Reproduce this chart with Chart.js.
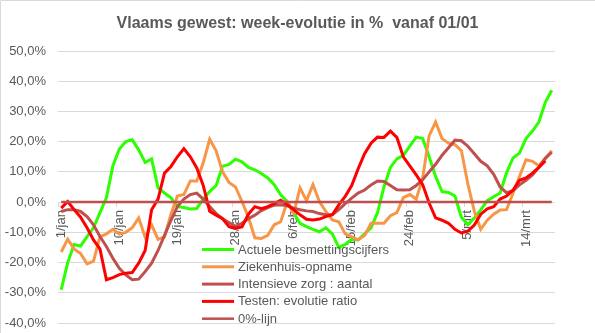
<!DOCTYPE html>
<html lang="nl">
<head>
<meta charset="utf-8">
<title>Vlaams gewest: week-evolutie</title>
<script src="https://cdn.jsdelivr.net/npm/chart.js@4.4.1/dist/chart.umd.min.js"></script>
<style>
  html, body { margin: 0; padding: 0; background: #fff; }
  .wrap { position: relative; width: 595px; height: 333px; }
</style>
</head>
<body>
<div class="wrap"><canvas id="chart" width="595" height="333"></canvas></div>
<script>
const TXT = "#595959";
const GRID = "#d9d9d9";
const FONT = "'Liberation Sans', Arial, sans-serif";
const TITEL = "Vlaams gewest: week-evolutie in %  vanaf 01/01";

// dagen vanaf 01/01
const dagen = [
  "1/jan","2/jan","3/jan","4/jan","5/jan","6/jan","7/jan","8/jan","9/jan","10/jan",
  "11/jan","12/jan","13/jan","14/jan","15/jan","16/jan","17/jan","18/jan","19/jan","20/jan",
  "21/jan","22/jan","23/jan","24/jan","25/jan","26/jan","27/jan","28/jan","29/jan","30/jan","31/jan",
  "1/feb","2/feb","3/feb","4/feb","5/feb","6/feb","7/feb","8/feb","9/feb","10/feb",
  "11/feb","12/feb","13/feb","14/feb","15/feb","16/feb","17/feb","18/feb","19/feb","20/feb",
  "21/feb","22/feb","23/feb","24/feb","25/feb","26/feb","27/feb","28/feb",
  "1/mrt","2/mrt","3/mrt","4/mrt","5/mrt","6/mrt","7/mrt","8/mrt","9/mrt","10/mrt",
  "11/mrt","12/mrt","13/mrt","14/mrt","15/mrt","16/mrt","17/mrt","18/mrt",
];

// week-evolutie in %
const besmettingen = [
  -29, -20, -14, -14.5, -11.4, -8.5, -3.5, 1.4, 12, 17.6,
  20, 20.6, 17.3, 13.1, 14.3, 4.7, 3, 1.4, -1.5, -1.8,
  -2.3, -2.1, 1, 3.5, 5.5, 11.9, 12.5, 14.2, 13.3, 11.5,
  10.7, 9.5, 8, 5.8, 2.4, 0.2, -3.5, -7, -8.1, -9,
  -9.8, -8.5, -10.5, -15, -14, -12.3, -12.5, -10.5, -8.5, -3.5,
  5, 11.5, 14.3, 15.5, 18.5, 21.5, 21, 15, 8.5, 3.5,
  3.2, 2, -5, -7.5, -5.3, -2.6, 0.5, 1.8, 3, 9.8,
  14.6, 16.2, 21, 23.5, 26.5, 33, 37,
];
const ziekenhuis = [
  -16.5, -12.3, -15.5, -17, -20.4, -19.5, -11.5, -10.5, -9, -10.6,
  -10, -8.5, -5.2, -11.6, -7.5, -12.3, -11.5, -4, 2, 2.5,
  7, 7, 13, 20.8, 17, 10, 6.5, 5, 0.2, -5,
  -11.8, -12, -11, -7.5, -6.5, 0, -3.7, 4.7, 0.5, 5.8,
  0.2, -3.1, -5.9, -6.5, -10.5, -11.5, -12.5, -11, -7, -7,
  -7, -4.5, -3.5, 1.5, 2.5, 1, 8, 22, 26.5, 21,
  19.5, 19, 17, 6, -3, -9, -6, -4, -2.6, -2.5,
  3, 8.5, 14, 13.5, 12, 14.5, 17,
];
const intensieveZorg = [
  -3.1, -2.5, -2.5, -3.1, -4.8, -7.5, -11.4, -14.7, -18.6, -21.9,
  -24.1, -25.7, -25.5, -23, -20.2, -16, -11, -6, -1.5, 1,
  2.5, 3, 1, -1.5, -3.8, -5.5, -6.8, -8, -7, -5.5,
  -4.3, -2.8, -1.8, -1, -0.9, -1.2, -2, -2.5, -2.9, -3.1,
  -3.8, -4.2, -4.2, -2.5, -0.5, 1.3, 3, 4, 5.7, 7,
  6.8, 5.5, 4.1, 4, 4.1, 5.5, 7.4, 10, 12.5, 15.5,
  18, 20.5, 20.3, 18.5, 16, 13.5, 12, 9.2, 5, 3.1,
  3.8, 5.7, 7.2, 9, 11.5, 14.5, 16.5,
];
const testen = [
  -2, 0.2, -2.5, -5, -8.5, -12.5, -15.5, -25.7, -25, -24,
  -23.5, -23.3, -20.2, -16, -2.5, 1, 9.6, 11.8, 15, 17.7,
  15, 11.3, 5.5, -3, -4.3, -5.5, -8.1, -8.6, -8.2, -4,
  -1.5, -2.2, -1.5, -0.5, 0.6, -0.8, -2.5, -4.2, -5.7, -5.9,
  -5.6, -4.8, -4.2, -0.9, 1.9, 5.5, 11, 16, 19.5, 21.5,
  21.4, 23.5, 21.4, 15, 12, 9, 5.8, -0.3, -5.2, -6,
  -7, -9, -10.2, -9.6, -7.6, -4, -2.2, -1.5, 1, 2,
  4, 7.2, 8, 9.6, 11.5, 13.6, null,
];
const nulLijn = [
  0, 0, 0, 0, 0, 0, 0, 0, 0, 0, 0, 0, 0, 0, 0, 0, 0, 0, 0, 0,
  0, 0, 0, 0, 0, 0, 0, 0, 0, 0, 0, 0, 0, 0, 0, 0, 0, 0, 0, 0,
  0, 0, 0, 0, 0, 0, 0, 0, 0, 0, 0, 0, 0, 0, 0, 0, 0, 0, 0, 0,
  0, 0, 0, 0, 0, 0, 0, 0, 0, 0, 0, 0, 0, 0, 0, 0, 0,
];

const yTicks = [-40, -30, -20, -10, 0, 10, 20, 30, 40, 50];
const labelStap = 9;

const fmtPct = (v) => v.toFixed(1).replace(".", ",") + "%";

const reeksen = [
  { label: "Actuele besmettingscijfers", data: besmettingen, color: "#2bff00", width: 3 },
  { label: "Ziekenhuis-opname", data: ziekenhuis, color: "#f79646", width: 3 },
  { label: "Intensieve zorg : aantal", data: intensieveZorg, color: "#c0504d", width: 3 },
  { label: "Testen: evolutie ratio", data: testen, color: "#ff0000", width: 3 },
  { label: "0%-lijn", data: nulLijn, color: "#c0504d", width: 2.5 },
];

// titel gecentreerd over het hele vlak
const titelPlugin = {
  id: "titel",
  afterDraw(chart) {
    const ctx = chart.ctx;
    ctx.save();
    ctx.font = "bold 16px " + FONT;
    ctx.fillStyle = TXT;
    ctx.textAlign = "center";
    ctx.textBaseline = "middle";
    ctx.fillText(TITEL, chart.width / 2, 24);
    ctx.restore();
  },
};

// legende ligt over het plotvlak, linksonder
const legendePlugin = {
  id: "legendeBinnen",
  afterDatasetsDraw(chart) {
    const ctx = chart.ctx;
    const x0 = 202, x1 = 234, tx = 238, y0 = 249.5, dy = 17.3;
    ctx.save();
    ctx.font = "13px " + FONT;
    ctx.textBaseline = "middle";
    ctx.fillStyle = TXT;
    reeksen.forEach((r, i) => {
      const y = y0 + i * dy;
      ctx.strokeStyle = r.color;
      ctx.lineWidth = r.width;
      ctx.beginPath();
      ctx.moveTo(x0, y);
      ctx.lineTo(x1, y);
      ctx.stroke();
      ctx.fillText(r.label, tx, y + 0.5);
    });
    ctx.restore();
  },
};

const randPlugin = {
  id: "rand",
  beforeDraw(chart) {
    const ctx = chart.ctx;
    ctx.save();
    ctx.fillStyle = "#fff";
    ctx.fillRect(0, 0, chart.width, chart.height);
    ctx.strokeStyle = GRID;
    ctx.lineWidth = 1;
    ctx.beginPath();
    ctx.moveTo(0.5, chart.height);
    ctx.lineTo(0.5, 0.5);
    ctx.lineTo(chart.width, 0.5);
    ctx.stroke();
    ctx.restore();
  },
};

new Chart(document.getElementById("chart"), {
  type: "line",
  data: {
    labels: dagen,
    datasets: reeksen.map((r, i) => ({
      label: r.label,
      data: r.data,
      borderColor: r.color,
      backgroundColor: r.color,
      borderWidth: r.width,
      pointRadius: 0,
      tension: 0,
      fill: false,
      order: reeksen.length - i,
    })),
  },
  options: {
    responsive: false,
    animation: false,
    layout: { padding: { left: 0, right: 40, top: 51, bottom: 10 } },
    plugins: {
      legend: { display: false },
      tooltip: { enabled: false },
      title: { display: false },
    },
    scales: {
      x: {
        type: "category",
        position: { y: 0 },
        offset: true,
        afterFit: (s) => { s.height = 0; },
        border: { display: false },
        grid: {
          offset: true,
          drawOnChartArea: false,
          drawTicks: true,
          tickLength: 5,
          tickColor: (c) => (c.index % labelStap === 0 ? GRID : "rgba(0,0,0,0)"),
        },
        ticks: {
          autoSkip: false,
          minRotation: 90,
          maxRotation: 90,
          padding: 3,
          color: TXT,
          font: { family: FONT, size: 13 },
          callback: (v, i) => (i % labelStap === 0 ? dagen[i] : ""),
        },
      },
      y: {
        min: -40,
        max: 50,
        // vaste breedte, en geen extra marge boven/onder voor de labels
        afterFit: (s) => {
          s.width = 58;
          s.paddingTop = 0;
          s.paddingBottom = 0;
        },
        afterBuildTicks: (s) => { s.ticks = yTicks.map((v) => ({ value: v })); },
        border: { display: false },
        grid: { color: GRID, lineWidth: 1, drawTicks: false },
        ticks: {
          padding: 12,
          color: TXT,
          font: { family: FONT, size: 13 },
          callback: (v) => fmtPct(v),
        },
      },
    },
  },
  plugins: [randPlugin, legendePlugin, titelPlugin],
});
</script>
</body>
</html>
